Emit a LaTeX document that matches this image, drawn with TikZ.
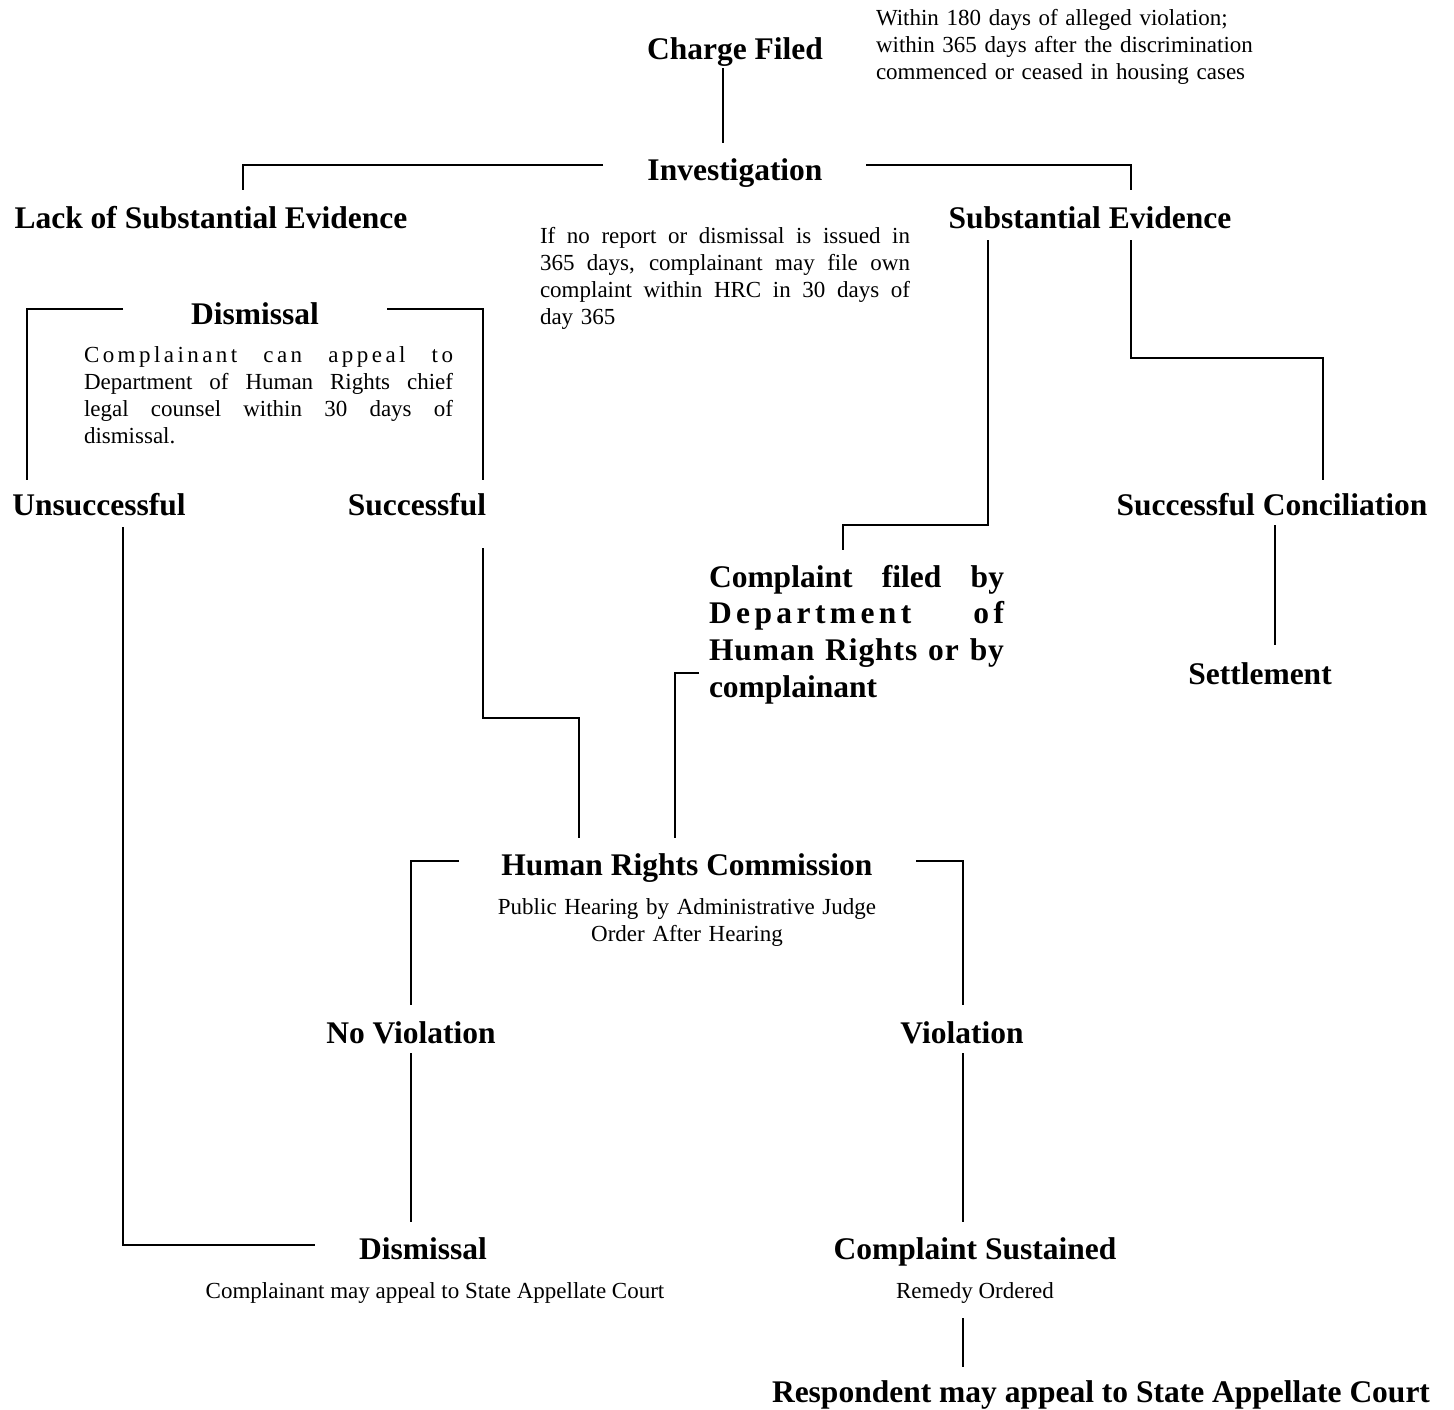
\documentclass[tikz,border=0pt]{standalone}
\usepackage{fontspec}
\setmainfont{Liberation Serif}
\usetikzlibrary{calc}

\newcommand\jline[2]{\makebox[#1][s]{\spaceskip=.25em plus 1fil\relax #2}}

\begin{document}
\begin{tikzpicture}
	[x=1pt, y=-1pt, line width=2pt,
	head/.style={font=\fontsize{31.5}{36.7}\selectfont\bfseries, inner sep=0pt, anchor=base},
	note/.style={font=\fontsize{23}{27}\selectfont, inner sep=0pt, anchor=base west},
	sub/.style={font=\fontsize{23}{27}\selectfont, inner sep=0pt, anchor=base, align=center}]
	\useasboundingbox (0,0) rectangle (1454,1409);
	% headings
	\node (charge) [head] at (735,59) {Charge Filed};
	\node (invest) [head] at (735,180) {Investigation};
	\node (lack) [head] at (211,228) {Lack of Substantial Evidence};
	\node (subst) [head] at (1090,228) {Substantial Evidence};
	\node (dism) [head] at (255,324) {Dismissal};
	\node (unsucc) [head] at (99,515) {Unsuccessful};
	\node (succ) [head] at (417,515) {Successful};
	\node (conc) [head] at (1272,515) {Successful Conciliation};
	\node (settle) [head] at (1260,684) {Settlement};
	\node (complaint) [head, anchor=base west, text width=295pt] at (708,587)
		{\jline{295pt}{Complaint filed by}\\
		\jline{295pt}{\addfontfeature{LetterSpace=14}Department of}\\
		\jline{295pt}{\addfontfeature{LetterSpace=3}Human Rights or by}\\
		complainant};
	\node (hrc) [head] at (687,875) {Human Rights Commission};
	\node (noviol) [head] at (411,1043) {No Violation};
	\node (viol) [head] at (962,1043) {Violation};
	\node (dism2) [head] at (423,1259) {Dismissal};
	\node (sust) [head] at (975,1259) {Complaint Sustained};
	\node (resp) [head] at (1101,1402) {Respondent may appeal to State Appellate Court};
	% notes
	\node (filenote) [note, text width=390pt] at (875,25)
		{\raggedright Within 180 days of alleged violation;\\
		within 365 days after the discrimination\\
		commenced or ceased in housing cases};
	\node (investnote) [note, text width=370pt] at (539,243)
		{\jline{370pt}{If no report or dismissal is issued in}\\
		\jline{370pt}{365 days, complainant may file own}\\
		\jline{370pt}{complaint within HRC in 30 days of}\\
		day 365};
	\node (dismnote) [note, text width=369pt] at (83,362)
		{\jline{369pt}{\addfontfeature{LetterSpace=15}Complainant can appeal to}\\
		\jline{369pt}{Department of Human Rights chief}\\
		\jline{369pt}{legal counsel within 30 days of}\\
		dismissal.};
	\node (hrcnote) [sub, text width=420pt] at (687,914)
		{Public Hearing by Administrative Judge\\ Order After Hearing};
	\node (dism2note) [sub] at (435,1298) {Complainant may appeal to State Appellate Court};
	\node (remedy) [sub] at (975,1298) {Remedy Ordered};
	% connectors
	\draw ($(charge.base)+(-12,9)$) -- ($(invest.base)+(-12,-37)$);
	\draw ($(invest.base)+(-132,-15)$) -| ($(lack.base)+(32,-38)$);
	\draw ($(invest.base)+(131,-15)$) -| ($(subst.base)+(41,-38)$);
	\draw ($(dism.base)+(-132,-15)$) -| ($(unsucc.base)+(-72,-35)$);
	\draw ($(dism.base)+(132,-15)$) -| ($(succ.base)+(66,-35)$);
	\draw ($(subst.base)+(-102,12)$) |- ($(complaint.base west)+(135,-62)$)
		-- ($(complaint.base west)+(135,-37)$);
	\draw ($(subst.base)+(41,12)$) |- ($(conc.base)+(51,-157)$) -- ($(conc.base)+(51,-35)$);
	\draw ($(conc.base)+(3,10)$) -- ($(settle.base)+(15,-39)$);
	\draw ($(succ.base)+(66,33)$) |- ($(hrc.base)+(-108,-157)$) -- ($(hrc.base)+(-108,-37)$);
	\draw ($(complaint.base west)+(-9,86)$) -| ($(hrc.base)+(-12,-37)$);
	\draw ($(hrc.base)+(-228,-14)$) -| ($(noviol.base)+(0,-38)$);
	\draw ($(hrc.base)+(229,-14)$) -| ($(viol.base)+(1,-38)$);
	\draw ($(noviol.base)+(0,10)$) -- ($(dism2.base)+(-12,-37)$);
	\draw ($(viol.base)+(1,10)$) -- ($(sust.base)+(-12,-37)$);
	\draw ($(unsucc.base)+(24,12)$) |- ($(dism2.base)+(-108,-14)$);
	\draw ($(remedy.base)+(-12,20)$) -- ($(resp.base)+(-138,-35)$);
\end{tikzpicture}
\end{document}
